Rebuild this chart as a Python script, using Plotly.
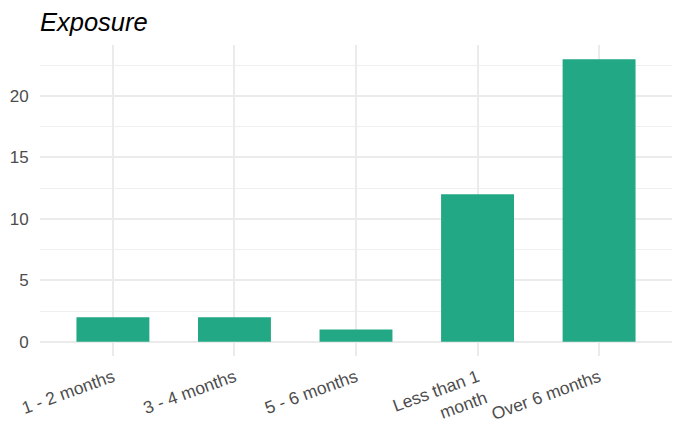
import plotly.graph_objects as go

categories = ["1 - 2 months", "3 - 4 months", "5 - 6 months", "Less than 1<br>month", "Over 6 months"]
counts = [2, 2, 1, 12, 23]

fig = go.Figure()
fig.add_trace(go.Bar(
    x=categories, y=counts,
    marker=dict(color="#22A884", line=dict(width=0)),
    width=0.6,
))

# page body adds ~8px offset, so the figure is drawn 8px smaller
fig.update_layout(
    width=677, height=435,
    margin=dict(l=32, r=13, t=37, b=87, autoexpand=False),
    paper_bgcolor="white", plot_bgcolor="white",
    font=dict(family="Liberation Sans, Arial, sans-serif", size=15, color="#4D4D4D"),
    title=dict(text="<i>Exposure</i>", x=0, xref="paper", xanchor="left",
               y=0.968, yref="container", yanchor="middle",
               font=dict(size=25.5, color="black")),
    showlegend=False,
)
fig.update_xaxes(
    type="category", range=[-0.6, 4.6], automargin=False,
    showgrid=True, gridcolor="#EBEBEB", gridwidth=1.6,
    tickangle=-20, ticks="", showline=False, zeroline=False,
    ticklabelstandoff=7,
    tickfont=dict(size=17.5, color="#4D4D4D"),
)
# invisible outside ticks just to push the labels away from the panel
fig.update_yaxes(
    range=[-1.15, 24.15], tickvals=[0, 5, 10, 15, 20], automargin=False,
    showgrid=True, gridcolor="#EBEBEB", gridwidth=1.6,
    minor=dict(tickvals=[2.5, 7.5, 12.5, 17.5, 22.5], showgrid=True,
               gridcolor="#EFEFEF", gridwidth=0.9),
    ticks="outside", ticklen=7, tickcolor="rgba(0,0,0,0)",
    showline=False, zeroline=False,
    tickfont=dict(size=17, color="#4D4D4D"),
)

fig.write_html("out.html")
